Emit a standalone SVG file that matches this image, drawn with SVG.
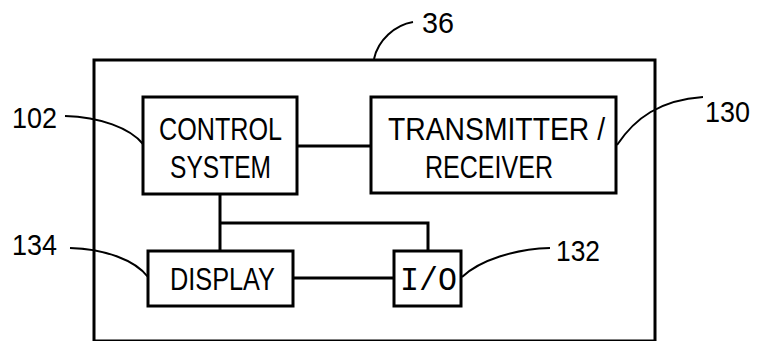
<svg xmlns="http://www.w3.org/2000/svg" width="760" height="341" viewBox="0 0 760 341">
<style>
.box{fill:#fff;stroke:#000;stroke-width:3}
.wire{fill:none;stroke:#000;stroke-width:3}
.lead{fill:none;stroke:#000;stroke-width:2}
.t{font-family:"Liberation Sans",Arial,sans-serif;font-size:31px;fill:#000}
.n{font-family:"Liberation Sans",Arial,sans-serif;font-size:30px;fill:#000}
.m{font-family:"Liberation Mono","Courier New",monospace;font-size:33px;fill:#000}
</style>
<rect width="760" height="341" fill="#fff"/>
<g id="device36">
<rect class="box" x="94" y="60" width="561" height="281" fill="none"/>
</g>
<g id="connectors">
<path class="wire" d="M297,146 H371"/>
<path class="wire" d="M220,194 V251"/>
<path class="wire" d="M220,223 H428 V251"/>
<path class="wire" d="M293,278 H394"/>
</g>
<g id="control">
<rect class="box" x="143" y="97" width="154" height="97"/>
<text class="t" x="159" y="140" textLength="123" lengthAdjust="spacingAndGlyphs">CONTROL</text>
<text class="t" x="170" y="178" textLength="101" lengthAdjust="spacingAndGlyphs">SYSTEM</text>
</g>
<g id="transceiver">
<rect class="box" x="371" y="97" width="245" height="96"/>
<text class="t" x="388" y="140" textLength="217" lengthAdjust="spacingAndGlyphs">TRANSMITTER /</text>
<text class="t" x="425" y="178" textLength="128" lengthAdjust="spacingAndGlyphs">RECEIVER</text>
</g>
<g id="display">
<rect class="box" x="148" y="251" width="145" height="55"/>
<text class="t" x="170" y="290" textLength="105" lengthAdjust="spacingAndGlyphs">DISPLAY</text>
</g>
<g id="io">
<rect class="box" x="394" y="251" width="67" height="55"/>
<text class="m" x="400" y="290" textLength="57" lengthAdjust="spacingAndGlyphs">I/O</text>
</g>
<g id="labels">
<path class="lead" d="M65,116 C100,117 130,128 143,144"/>
<text class="n" x="12" y="128" textLength="45" lengthAdjust="spacingAndGlyphs">102</text>
<path class="lead" d="M374,59 C378,40 395,25 413,22"/>
<text class="n" x="422" y="33" textLength="32" lengthAdjust="spacingAndGlyphs">36</text>
<path class="lead" d="M617,145 C635,118 660,100 703,97"/>
<text class="n" x="705" y="122" textLength="45" lengthAdjust="spacingAndGlyphs">130</text>
<path class="lead" d="M70,248 C105,249 135,260 148,277"/>
<text class="n" x="12" y="255" textLength="45" lengthAdjust="spacingAndGlyphs">134</text>
<path class="lead" d="M462,277 C480,260 515,249 550,248"/>
<text class="n" x="556" y="261" textLength="44" lengthAdjust="spacingAndGlyphs">132</text>
</g>
</svg>
